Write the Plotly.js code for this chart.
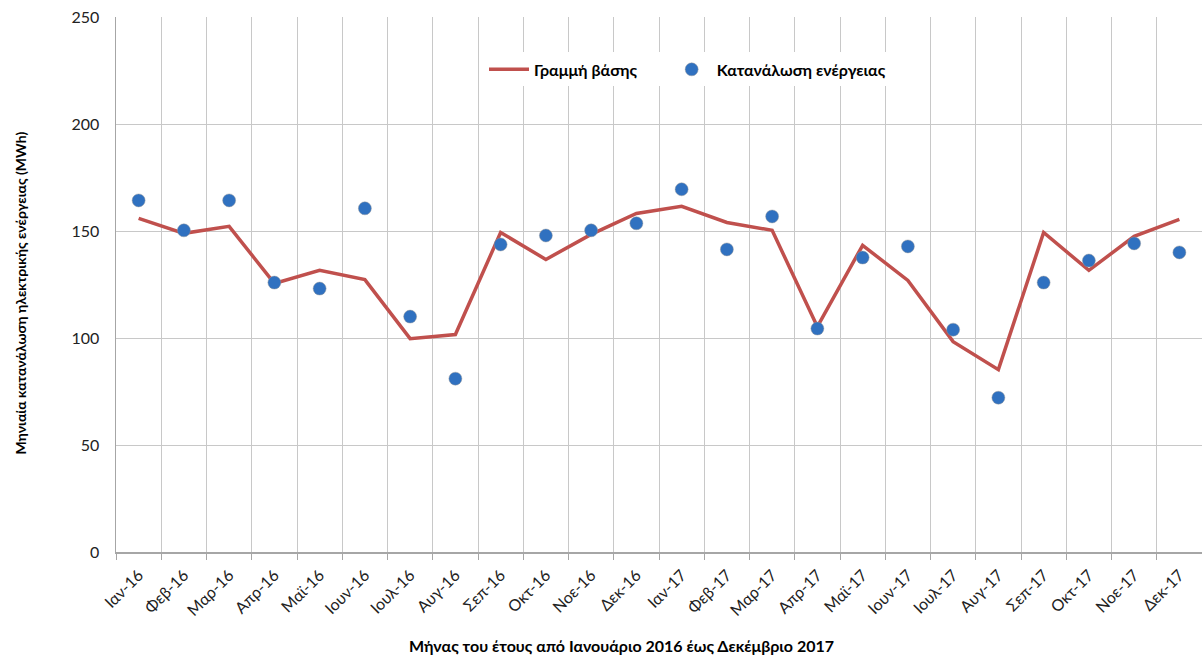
<!DOCTYPE html>
<html>
<head>
<meta charset="utf-8">
<script src="https://cdn.plot.ly/plotly-3.0.1.min.js"></script>
<style>html,body{margin:0;padding:0;background:#fff;}#chart{width:1202px;height:660px;}</style>
</head>
<body>
<div id="chart"></div>
<script>
const months = ["Ιαν-16","Φεβ-16","Μαρ-16","Απρ-16","Μαϊ-16","Ιουν-16","Ιουλ-16","Αυγ-16","Σεπ-16","Οκτ-16","Νοε-16","Δεκ-16",
                "Ιαν-17","Φεβ-17","Μαρ-17","Απρ-17","Μαϊ-17","Ιουν-17","Ιουλ-17","Αυγ-17","Σεπ-17","Οκτ-17","Νοε-17","Δεκ-17"];
const baseline = [155.9,148.9,152.2,125.5,131.6,127.3,99.7,101.6,149.3,136.7,148.4,158.2,
                  161.5,154.0,150.3,105.3,143.3,126.9,98.3,85.2,149.3,131.6,147.5,155.4];
const consumption = [164.3,150.3,164.3,125.9,123.1,160.6,110.0,81.0,143.7,147.9,150.3,153.6,
                     169.5,141.4,156.8,104.4,137.6,142.8,103.9,72.1,125.9,136.2,144.2,140.0];
const yTicks = [0,50,100,150,200,250];

const FONT = 'Lato, "Open Sans", sans-serif';
const PAD = '&nbsp;&nbsp;&nbsp;&nbsp;&nbsp;&nbsp;';

const traces = [
  {
    x: months, y: baseline, type: 'scatter', mode: 'lines',
    name: '<b>Γραμμή βάσης</b>' + PAD,
    line: {color: '#c0504d', width: 3.5}
  },
  {
    x: months, y: consumption, type: 'scatter', mode: 'markers',
    name: '<b>Κατανάλωση ενέργειας</b>',
    marker: {color: '#3071c0', size: 13, line: {color: 'rgba(150,150,150,0.45)', width: 1}}
  }
];

const layout = {
  width: 1202, height: 660,
  margin: {l: 116, r: 0, t: 17, b: 108},
  paper_bgcolor: '#ffffff', plot_bgcolor: '#ffffff',
  font: {family: FONT, color: '#000'},
  showlegend: true,
  legend: {
    orientation: 'h', x: (484 - 116) / 1086, xanchor: 'left', y: 0.902, yanchor: 'middle',
    bgcolor: '#ffffff', font: {size: 16, color: '#000', family: FONT},
    itemwidth: 40
  },
  xaxis: {
    type: 'category',
    tickson: 'boundaries',
    showgrid: true, gridcolor: '#c8c8c8', gridwidth: 1,
    showline: true, linecolor: '#a6a6a6', linewidth: 1.5,
    ticks: 'outside', ticklen: 6, tickcolor: '#a6a6a6', tickwidth: 1,
    tickangle: -45, ticklabelstandoff: 6,
    tickfont: {size: 16, color: '#222', family: FONT},
    range: [-0.5, 23.5],
    fixedrange: true
  },
  yaxis: {
    range: [0, 250],
    tickvals: yTicks,
    showgrid: true, gridcolor: '#c8c8c8', gridwidth: 1,
    showline: true, linecolor: '#a6a6a6', linewidth: 1.5,
    zeroline: false,
    ticks: '', ticklabelstandoff: 12,
    tickfont: {size: 16, color: '#222', family: FONT},
    fixedrange: true
  },
  annotations: [
    {
      text: '<b>Μηνιαία κατανάλωση ηλεκτρικής ενέργειας (MWh)</b>',
      xref: 'paper', yref: 'paper', x: (21 - 116) / 1086, y: 0.483,
      xanchor: 'center', yanchor: 'middle', textangle: -90, showarrow: false,
      font: {size: 14, color: '#000', family: FONT}
    },
    {
      text: '<b>Μήνας του έτους από Ιανουάριο 2016 έως Δεκέμβριο 2017</b>',
      xref: 'paper', yref: 'paper', x: (621 - 116) / 1086, y: (552 - 645) / 535,
      xanchor: 'center', yanchor: 'middle', showarrow: false,
      font: {size: 16, color: '#000', family: FONT}
    }
  ]
};

Plotly.newPlot('chart', traces, layout, {displayModeBar: false, staticPlot: true});
</script>
</body>
</html>
